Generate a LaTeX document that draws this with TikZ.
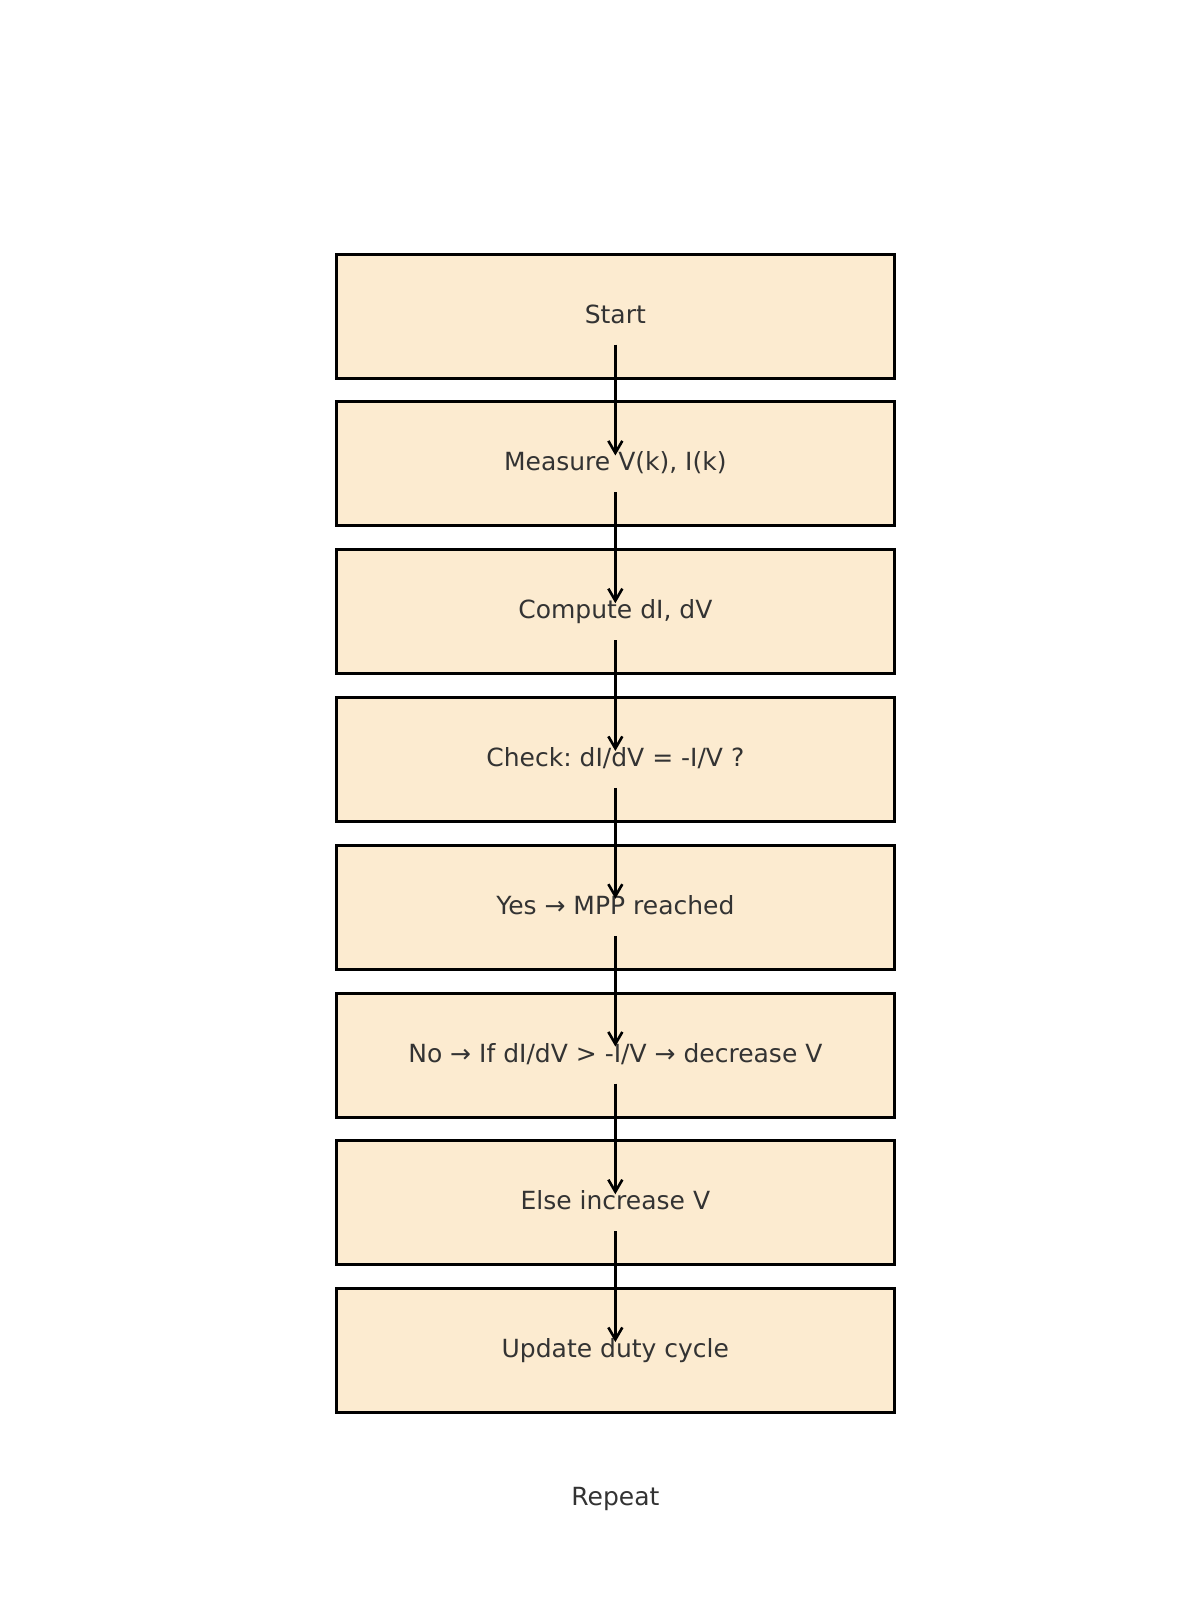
\documentclass[tikz,border=0pt]{standalone}
\usepackage{fontspec}
\setmainfont{DejaVu Sans}
\usetikzlibrary{arrows.meta}
\definecolor{boxfill}{HTML}{FCEBD0}
\definecolor{txt}{HTML}{333333}
\frenchspacing
\begin{document}
\begin{tikzpicture}[x=1pt,y=-1pt,
  lbl/.style={text=txt, font=\fontsize{25}{30}\selectfont\frenchspacing, inner sep=0pt, text height=20pt, text depth=6pt},
  stepbox/.style={lbl, draw=black, line width=3pt, fill=boxfill, minimum width=558.3pt, minimum height=124pt},
  flow/.style={draw=black, line width=2.6pt, -{Straight Barb[length=12pt, width=14pt]}}]
\useasboundingbox[fill=white] (0,0) rectangle (1200,1600);
\node[stepbox] (b0) at (615.35,316.2) {Start};
\node[stepbox] (b1) at (615.35,463.96) {Measure V(k), I(k)};
\node[stepbox] (b2) at (615.35,611.72) {Compute dI, dV};
\node[stepbox] (b3) at (615.35,759.48) {Check: dI/dV = -I/V ?};
\node[stepbox] (b4) at (615.35,907.24) {Yes → MPP reached};
\node[stepbox] (b5) at (615.35,1055.0) {No → If dI/dV > -I/V → decrease V};
\node[stepbox] (b6) at (615.35,1202.76) {Else increase V};
\node[stepbox] (b7) at (615.35,1350.52) {Update duty cycle};
\node[lbl] (rep) at (615.35,1498.28) {Repeat};
\foreach \a/\b in {b0/b1,b1/b2,b2/b3,b3/b4,b4/b5,b5/b6,b6/b7}
  \draw[flow] ([yshift=-28.5pt]\a.center) -- ([yshift=8.5pt]\b.center);
\end{tikzpicture}
\end{document}
